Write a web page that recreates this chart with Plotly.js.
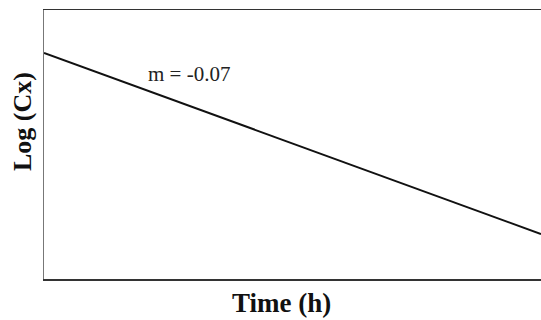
<!DOCTYPE html>
<html>
<head>
<meta charset="utf-8">
<script src="https://cdn.plot.ly/plotly-3.0.1.min.js"></script>
<style>
html,body{margin:0;padding:0;overflow:hidden;background:#fff;}
#chart{width:541px;height:320px;}
</style>
</head>
<body>
<div id="chart"></div>
<script>
// Data
const timeH = [0, 10];
const logCx = [1.0, 0.3];
const slopeLabel = "m = -0.07";
const xTitle = "Time (h)";
const yTitle = "Log (Cx)";

const W = 541, H = 320;
const M = {l: 44, r: 0, t: 10, b: 41};
const pw = W - M.l - M.r, ph = H - M.t - M.b;
const px = p => (p - M.l) / pw;          // pixel -> paper x
const py = p => (H - M.b - p) / ph;      // pixel -> paper y

const trace = {
  x: timeH,
  y: logCx,
  type: "scatter",
  mode: "lines",
  line: {color: "#111", width: 2},
  hoverinfo: "skip",
  showlegend: false
};

const serif = "Liberation Serif";

const layout = {
  width: W,
  height: H,
  margin: M,
  paper_bgcolor: "#fff",
  plot_bgcolor: "#fff",
  xaxis: {
    range: [0, 10],
    showgrid: false, zeroline: false, showticklabels: false, ticks: "",
    showline: true, mirror: true, linecolor: "#333", linewidth: 1.5
  },
  yaxis: {
    range: [0.126, 1.166],
    showgrid: false, zeroline: false, showticklabels: false, ticks: "",
    showline: true, mirror: true, linecolor: "#777", linewidth: 1
  },
  annotations: [
    {
      x: px(189), y: py(74), xref: "paper", yref: "paper",
      xanchor: "center", yanchor: "middle",
      text: slopeLabel, showarrow: false,
      font: {family: serif, size: 21, color: "#222"}
    },
    {
      x: px(281), y: py(303), xref: "paper", yref: "paper",
      xanchor: "center", yanchor: "middle",
      text: "<b>" + xTitle + "</b>", showarrow: false,
      font: {family: serif, size: 27, color: "#111"}
    },
    {
      x: px(22), y: py(122), xref: "paper", yref: "paper",
      xanchor: "center", yanchor: "middle", textangle: -90,
      text: "<b>" + yTitle + "</b>", showarrow: false,
      font: {family: serif, size: 26, color: "#111"}
    }
  ]
};

Plotly.newPlot("chart", [trace], layout, {displayModeBar: false, staticPlot: true});
</script>
</body>
</html>
